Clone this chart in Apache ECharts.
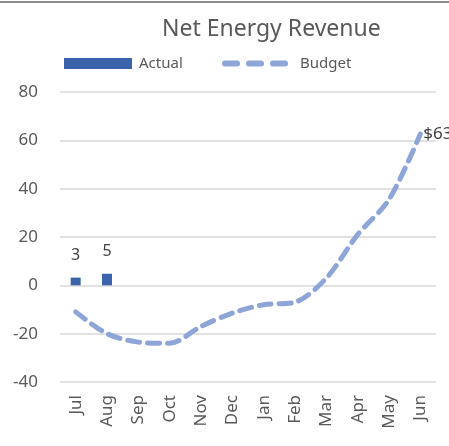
<!DOCTYPE html>
<html>
<head>
<meta charset="utf-8">
<script src="https://cdn.jsdelivr.net/npm/echarts@6/dist/echarts.min.js"></script>
<style>
  html, body { margin: 0; padding: 0; background: #fff; }
  #chart { width: 449px; height: 446px; }
</style>
</head>
<body>
<div id="chart"></div>
<script>
// 月份 (fiscal year Jul-Jun)
const months = ["Jul", "Aug", "Sep", "Oct", "Nov", "Dec", "Jan", "Feb", "Mar", "Apr", "May", "Jun"];
// actual only for first two months
const actual = [3.2, 4.8, null, null, null, null, null, null, null, null, null, null];
const budget = [-11, -20, -23.5, -24, -17, -11.5, -8, -7, 3, 21, 35.5, 62.6];
const yTicks = [-40, -20, 0, 20, 40, 60, 80];

const textColor = "#595959";
const font = "Noto Sans";
const budgetColor = "#8ea5d8";

// three rounded dashes for the legend swatch
const dashIcon = "path://M3,0H15A3,3 0 0 1 15,6H3A3,3 0 0 1 3,0Z" +
  "M27,0H39A3,3 0 0 1 39,6H27A3,3 0 0 1 27,0Z" +
  "M51,0H63A3,3 0 0 1 63,6H51A3,3 0 0 1 51,0Z";

let chart = echarts.init(document.getElementById("chart"));
chart.setOption({
  animation: false,
  textStyle: { fontFamily: font },
  title: {
    text: "Net Energy Revenue",
    left: 157,
    top: 13,
    textStyle: { fontSize: 23, fontWeight: "normal", color: textColor, fontFamily: font }
  },
  legend: [
    {
      left: 59,
      top: 51,
      itemWidth: 68,
      itemHeight: 11,
      textStyle: { fontSize: 15, color: textColor, padding: [0, 0, 0, 2] },
      data: [{ name: "Actual", icon: "rect" }]
    },
    {
      left: 217,
      top: 51,
      itemWidth: 66,
      itemHeight: 6,
      textStyle: { fontSize: 15, color: textColor, padding: [0, 0, 0, 7] },
      itemStyle: { color: budgetColor },
      data: [{ name: "Budget", icon: dashIcon }]
    }
  ],
  graphic: [
    { type: "line", shape: { x1: 0, y1: 2, x2: 449, y2: 2 }, style: { stroke: "#8c8c8c", lineWidth: 2 } }
  ],
  grid: { left: 60, right: 13, top: 92, bottom: 64 },
  xAxis: {
    type: "category",
    data: months,
    axisLine: { show: false },
    axisTick: { show: false },
    axisLabel: { rotate: 90, fontSize: 17, color: textColor, margin: 13 }
  },
  yAxis: {
    type: "value",
    min: yTicks[0],
    max: yTicks[yTicks.length - 1],
    interval: 20,
    axisLine: { show: false },
    axisTick: { show: false },
    axisLabel: { fontSize: 17, color: textColor, margin: 22 },
    splitLine: { lineStyle: { color: "#d9d9d9", width: 1.5 } }
  },
  series: [
    {
      name: "Actual",
      type: "bar",
      data: actual,
      barWidth: 10,
      itemStyle: { color: "#3a63ac" },
      label: {
        show: true,
        position: "top",
        distance: 14,
        fontSize: 16,
        color: "#404040",
        formatter: p => Math.round(p.value)
      }
    },
    {
      name: "Budget",
      type: "line",
      data: budget,
      smooth: 0.3,
      symbol: "none",
      lineStyle: { color: budgetColor, width: 5, type: [12, 8], cap: "round" },
      itemStyle: { color: budgetColor },
      endLabel: {
        show: true,
        distance: 3,
        offset: [0, 0],
        fontSize: 17,
        color: "#404040",
        formatter: p => "$" + Math.round(p.value)
      }
    }
  ]
});
</script>
</body>
</html>
